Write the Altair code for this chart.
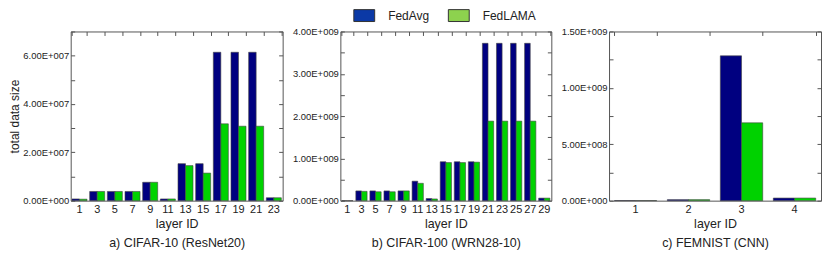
import altair as alt
import pandas as pd

methods = ["FedAvg", "FedLAMA"]
bar_colors = ["#000080", "#00d200"]
legend_colors = ["#0b39a6", "#8dd24e"]

# a) CIFAR-10 (ResNet20)
c10_layers = [1, 3, 5, 7, 9, 11, 13, 15, 17, 19, 21, 23]
c10_fedavg = [7e5, 3.8e6, 3.8e6, 3.8e6, 7.6e6, 7e5, 1.53e7, 1.53e7, 6.14e7, 6.14e7, 6.14e7, 1.2e6]
c10_fedlama = [6e5, 3.8e6, 3.8e6, 3.8e6, 7.6e6, 7e5, 1.45e7, 1.14e7, 3.18e7, 3.08e7, 3.08e7, 1.2e6]

# b) CIFAR-100 (WRN28-10)
c100_layers = [1, 3, 5, 7, 9, 11, 13, 15, 17, 19, 21, 23, 25, 27, 29]
c100_fedavg = [0, 2.3e8, 2.3e8, 2.3e8, 2.3e8, 4.6e8, 5e7, 9.2e8, 9.2e8, 9.2e8,
               3.72e9, 3.72e9, 3.72e9, 3.72e9, 6e7]
c100_fedlama = [0, 2.2e8, 2.1e8, 2.1e8, 2.3e8, 4.1e8, 4e7, 9.0e8, 9.0e8, 9.1e8,
                1.88e9, 1.88e9, 1.88e9, 1.88e9, 6e7]

# c) FEMNIST (CNN)
fem_layers = [1, 2, 3, 4]
fem_fedavg = [8e5, 9e6, 1.284e9, 2.3e7]
fem_fedlama = [8e5, 9e6, 6.9e8, 2.3e7]

FONT = "Liberation Sans"
H = 170
LABEL_EXPR = "replace(format(datum.value, '.2e'), 'e+', 'E+00')"


def make_panel(layers, fedavg, fedlama, ymax, major, minor, width, pad_inner,
               subtitle, ytitle=None, legend=False):
    n = len(layers)
    df = pd.DataFrame({
        "layer": layers + layers,
        "method": ["FedAvg"] * n + ["FedLAMA"] * n,
        "value": fedavg + fedlama,
    })
    major_vals = [i * major for i in range(int(round(ymax / major)) + 1) if i * major <= ymax + 1]
    minor_vals = [i * minor for i in range(int(round(ymax / minor)) + 1)]
    yscale = alt.Scale(domain=[0, ymax], nice=False, zero=True)
    xscale = alt.Scale(paddingInner=pad_inner, paddingOuter=pad_inner / 2)

    yaxis_kwargs = dict(orient="left", values=major_vals, labelExpr=LABEL_EXPR,
                        ticks=False, domain=False, grid=False, labelFontSize=9.5,
                        labelPadding=2, labelColor="#222")
    if ytitle:
        yaxis_kwargs.update(title=ytitle, titleFontSize=12, titleFontWeight="normal",
                            titlePadding=1, titleColor="#222")
    else:
        yaxis_kwargs.update(title=None)

    bars = alt.Chart(df).mark_bar(stroke="#444", strokeWidth=0.6).encode(
        x=alt.X("layer:O", scale=xscale,
                axis=alt.Axis(orient="bottom", labelAngle=0, ticks=False, domain=False,
                              grid=False, labelFontSize=11, labelPadding=3, labelColor="#222",
                              title=["layer ID", subtitle], titleFontSize=12.5,
                              titleFontWeight="normal", titlePadding=3,
                              titleLineHeight=19, titleColor="#222")),
        xOffset=alt.XOffset("method:N", sort=methods),
        y=alt.Y("value:Q", scale=yscale, axis=alt.Axis(**yaxis_kwargs)),
        color=alt.Color("method:N", scale=alt.Scale(domain=methods, range=bar_colors),
                        legend=None),
    )

    ghost1 = alt.Chart(df).transform_filter("false").mark_point().encode(
        x=alt.X("layer:O", axis=alt.Axis(orient="bottom", offset=-H, labels=False,
                                         domain=False, ticks=True, tickBand="extent",
                                         tickSize=4, tickColor="#555", grid=False,
                                         title=None)),
        y=alt.Y("value:Q", axis=alt.Axis(orient="right", offset=-width, labels=False,
                                         domain=False, values=minor_vals, tickSize=4,
                                         tickColor="#555", grid=False, title=None)),
    )
    ghost2 = alt.Chart(df).transform_filter("false").mark_point().encode(
        x=alt.X("layer:O", axis=None),
        y=alt.Y("value:Q", axis=alt.Axis(orient="left", offset=-width, labels=False,
                                         domain=False, values=minor_vals, tickSize=4,
                                         tickColor="#555", grid=False, title=None)),
    )
    layers_list = [bars, ghost1, ghost2]
    if legend:
        leg = alt.Chart(df).transform_filter("false").mark_square().encode(
            fill=alt.Fill("method:N",
                          scale=alt.Scale(domain=methods, range=legend_colors),
                          legend=alt.Legend(orient="none", direction="horizontal",
                                            legendX=18, legendY=-22, title=None,
                                            symbolType="M-2,-1.14H2V1.14H-2Z",
                                            symbolSize=110, symbolStrokeColor="#333",
                                            symbolStrokeWidth=1, symbolOpacity=1,
                                            labelFontSize=12, labelOffset=18,
                                            columnPadding=16, padding=0,
                                            labelColor="#222")),
        )
        layers_list.append(leg)
    return alt.layer(*layers_list).resolve_axis(x="independent", y="independent").properties(
        width=width, height=H)


p1 = make_panel(c10_layers, c10_fedavg, c10_fedlama, 7e7, 2e7, 1e7, 213, 0.15,
                "a) CIFAR-10 (ResNet20)", ytitle="total data size")
p2 = make_panel(c100_layers, c100_fedavg, c100_fedlama, 4e9, 1e9, 5e8, 212, 0.2,
                "b) CIFAR-100 (WRN28-10)", legend=True)
p3 = make_panel(fem_layers, fem_fedavg, fem_fedlama, 1.5e9, 5e8, 2.5e8, 213, 0.2,
                "c) FEMNIST (CNN)")

chart = alt.hconcat(p1, p2, p3, spacing=8).resolve_legend(fill="independent").resolve_scale(
    xOffset="independent"
).properties(
    padding={"left": 0, "top": 0, "right": 0, "bottom": 0}
).configure(font=FONT).configure_view(stroke="#555", strokeWidth=1)

chart.save("out.html", embed_options={"renderer": "svg", "actions": False})
